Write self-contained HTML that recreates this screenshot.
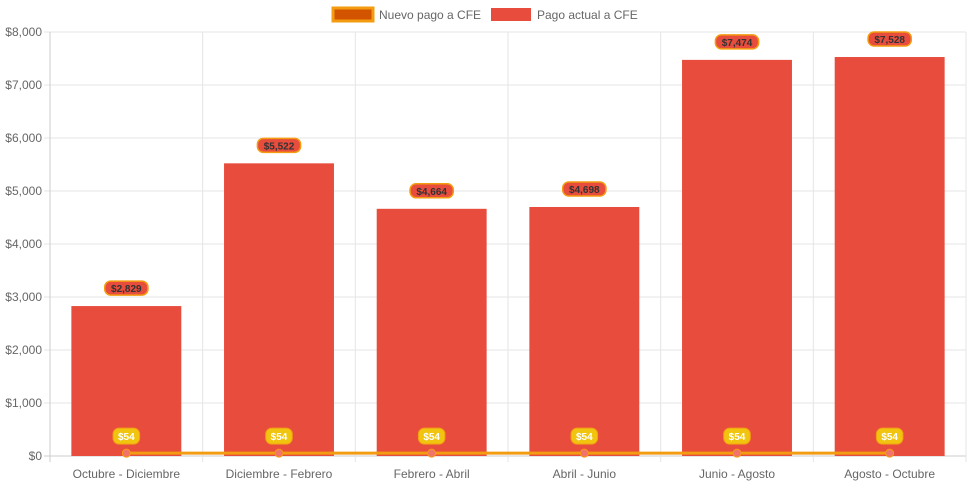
<!DOCTYPE html>
<html><head><meta charset="utf-8"><style>
body{margin:0;background:#fff;font-family:"Liberation Sans",sans-serif;}
svg text{font-family:"Liberation Sans",sans-serif;}
</style></head><body>
<svg id="c" width="971" height="485">
<g id="legend">
<g>
<rect x="333" y="8" width="40" height="13" fill="#d35400" stroke="#f39c12" stroke-width="3"/>
<text x="379" y="19" font-size="12" fill="#666">Nuevo pago a CFE</text></g>
<g>
<rect x="491" y="8" width="40" height="13" fill="#e74c3c"/>
<text x="537" y="19" font-size="12" fill="#666">Pago actual a CFE</text></g>
</g>
<g id="grid"></g>
<g id="bars"></g>
<g id="line"></g>
<g id="labels"></g>
</svg>
<script>
const categories=["Octubre - Diciembre","Diciembre - Febrero","Febrero - Abril","Abril - Junio","Junio - Agosto","Agosto - Octubre"];
const pagoActual=[2829,5522,4664,4698,7474,7528];
const nuevoPago=[54,54,54,54,54,54];
const yTicks=[0,1000,2000,3000,4000,5000,6000,7000,8000];
const L=50,R=966,T=32,B=456,yMax=8000;
const NS="http://www.w3.org/2000/svg";
const cw=(R-L)/categories.length;
const y=v=>B-(v/yMax)*(B-T);
const xc=i=>L+cw*(i+0.5);
function mk(p,tag,a,txt){const e=document.createElementNS(NS,tag);for(const k in a)e.setAttribute(k,a[k]);if(txt!==undefined)e.textContent=txt;p.appendChild(e);return e;}
const fmt=v=>"$"+v.toLocaleString("en-US");
const g=document.getElementById("grid");
yTicks.forEach(t=>{
 const ln=mk(g,"line",{x1:L-6,x2:R,y1:y(t),y2:y(t),stroke:t===0?"#ccc":"#e5e5e5"});
 
 
 const tx=mk(g,"text",{x:L-8,y:y(t)+4,"text-anchor":"end","font-size":12,fill:"#666"},fmt(t));
 
 
});
for(let i=0;i<=categories.length;i++){
 const ln=mk(g,"line",{x1:L+cw*i,x2:L+cw*i,y1:T,y2:B+6,stroke:"#e5e5e5"});
 
 
}
mk(g,"line",{x1:L,x2:L,y1:T,y2:B+6,stroke:"#ccc"});
categories.forEach((c,i)=>{
 const tx=mk(g,"text",{x:xc(i),y:B+22,"text-anchor":"middle","font-size":12,fill:"#666"},c);
 
 
});
const bg=document.getElementById("bars"),lb=document.getElementById("labels");
const bw=cw*0.72;
pagoActual.forEach((v,i)=>{
 const r=mk(bg,"rect",{x:xc(i)-bw/2,y:y(v),width:bw,height:B-y(v),fill:"#e74c3c"});
 
 
 const ly=y(v)-18,t=fmt(v),w=t.length*6.2+6;
 const lr=mk(lb,"rect",{x:xc(i)-w/2,y:ly-7,width:w,height:14,rx:6,fill:"#e74c3c",stroke:"#f39c12","stroke-width":1.5});
 
 
 const lt=mk(lb,"text",{x:xc(i),y:ly+4,"text-anchor":"middle","font-size":10,"font-weight":"bold",fill:"#333"},t);
 
 
});
const lg=document.getElementById("line");
let d="";nuevoPago.forEach((v,i)=>{d+=(i?"L":"M")+xc(i)+","+y(v);});
const pl=mk(lg,"path",{d:d,stroke:"#f39c12","stroke-width":3,fill:"none"});


nuevoPago.forEach((v,i)=>{
 const c=mk(lg,"circle",{cx:xc(i),cy:y(v),r:4,fill:"#f1736a",stroke:"#f39c12","stroke-width":1});
 
 
 const ly=y(v)-17,t=fmt(v),w=t.length*6.2+8;
 const lr=mk(lb,"rect",{x:xc(i)-w/2,y:ly-8,width:w,height:16,rx:6,fill:"#f1c40f",stroke:"#f39c12","stroke-width":1});
 
 
 const lt=mk(lb,"text",{x:xc(i),y:ly+4,"text-anchor":"middle","font-size":10,"font-weight":"bold",fill:"#fff"},t);
 
 
});
</script>
</body></html>
